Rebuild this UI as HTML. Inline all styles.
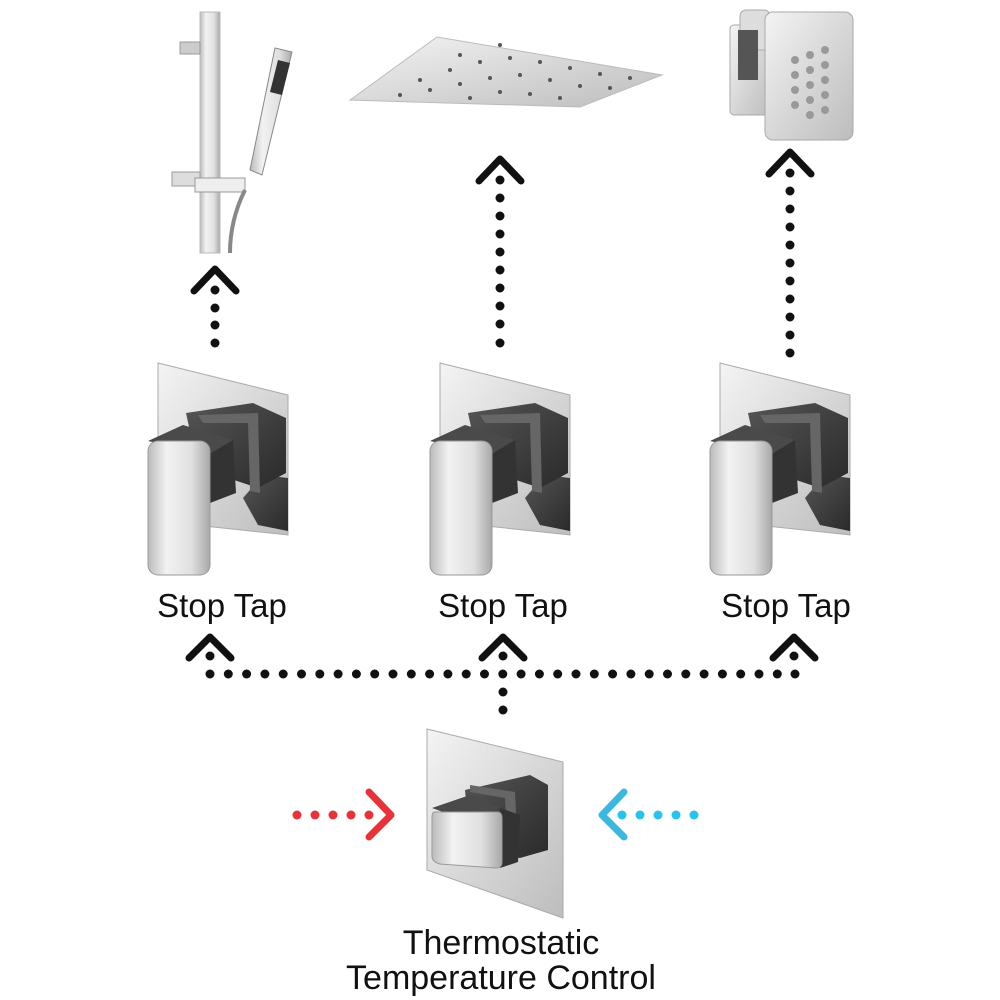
<!DOCTYPE html>
<html><head><meta charset="utf-8"><style>
html,body{margin:0;padding:0;background:#fff}
svg{display:block}
text{font-family:"Liberation Sans",sans-serif;fill:#111}
</style></head><body>
<svg width="1000" height="1000" viewBox="0 0 1000 1000" xmlns="http://www.w3.org/2000/svg">
<defs>
<linearGradient id="chrome" x1="0" y1="0" x2="1" y2="1">
<stop offset="0" stop-color="#f4f4f4"/><stop offset="0.5" stop-color="#d8d8d8"/><stop offset="1" stop-color="#bdbdbd"/>
</linearGradient>
<linearGradient id="lever" x1="0" y1="0" x2="1" y2="0">
<stop offset="0" stop-color="#bbb"/><stop offset="0.3" stop-color="#f2f2f2"/><stop offset="0.7" stop-color="#e0e0e0"/><stop offset="1" stop-color="#a8a8a8"/>
</linearGradient>
<linearGradient id="dark" x1="0" y1="0" x2="1" y2="1">
<stop offset="0" stop-color="#555"/><stop offset="1" stop-color="#2a2a2a"/>
</linearGradient>
<g id="tap">
<polygon points="0,0 130,32 130,172 0,158" fill="url(#chrome)" stroke="#aaa" stroke-width="1"/>
<polygon points="85,135 105,112 130,115 130,168 100,162" fill="url(#dark)"/>
<polygon points="28,50 95,40 128,55 128,110 100,125 40,105" fill="url(#dark)"/>
<polygon points="40,52 100,50 102,130 92,128 90,60 45,60" fill="#666"/>
<polygon points="-10,78 25,62 75,77 50,92" fill="#4a4a4a"/>
<polygon points="50,92 75,77 78,130 52,140" fill="#333"/>
<rect x="-10" y="78" width="62" height="134" rx="10" fill="url(#lever)" stroke="#999" stroke-width="1"/>
</g>
</defs>

<!-- shower rail -->
<rect x="200" y="12" width="20" height="241" fill="url(#lever)" stroke="#bbb"/>
<rect x="180" y="42" width="20" height="12" fill="#ccc" stroke="#999"/>
<rect x="172" y="172" width="28" height="14" fill="#ddd" stroke="#999"/>
<rect x="195" y="178" width="50" height="14" fill="#eee" stroke="#999"/>
<polygon points="275,48 292,52 262,175 250,170" fill="url(#lever)" stroke="#888"/>
<polygon points="278,60 290,63 282,95 270,92" fill="#333"/>
<path d="M245,190 Q230,220 230,253" stroke="#888" stroke-width="4" fill="none"/>

<!-- shower head -->
<polygon points="350,100 437,37 662,75 580,107" fill="url(#chrome)" stroke="#bbb"/>
<g fill="#555">
<circle cx="420" cy="80" r="2"/><circle cx="450" cy="70" r="2"/><circle cx="480" cy="62" r="2"/><circle cx="510" cy="58" r="2"/><circle cx="540" cy="62" r="2"/><circle cx="570" cy="68" r="2"/><circle cx="600" cy="74" r="2"/><circle cx="630" cy="78" r="2"/>
<circle cx="400" cy="95" r="2"/><circle cx="430" cy="90" r="2"/><circle cx="460" cy="84" r="2"/><circle cx="490" cy="78" r="2"/><circle cx="520" cy="75" r="2"/><circle cx="550" cy="80" r="2"/><circle cx="580" cy="86" r="2"/><circle cx="610" cy="88" r="2"/>
<circle cx="470" cy="98" r="2"/><circle cx="500" cy="92" r="2"/><circle cx="530" cy="94" r="2"/><circle cx="560" cy="98" r="2"/><circle cx="460" cy="55" r="2"/><circle cx="500" cy="45" r="2"/>
</g>

<!-- body jet -->
<rect x="730" y="25" width="40" height="90" rx="4" fill="url(#chrome)" stroke="#aaa"/>
<rect x="740" y="10" width="30" height="40" rx="6" fill="#ddd" stroke="#aaa"/>
<rect x="738" y="30" width="20" height="50" fill="#555"/>
<rect x="765" y="12" width="88" height="128" rx="8" fill="url(#chrome)" stroke="#aaa"/>
<g fill="#999">
<circle cx="795" cy="60" r="4"/><circle cx="810" cy="55" r="4"/><circle cx="825" cy="50" r="4"/>
<circle cx="795" cy="75" r="4"/><circle cx="810" cy="70" r="4"/><circle cx="825" cy="65" r="4"/>
<circle cx="795" cy="90" r="4"/><circle cx="810" cy="85" r="4"/><circle cx="825" cy="80" r="4"/>
<circle cx="795" cy="105" r="4"/><circle cx="810" cy="100" r="4"/><circle cx="825" cy="95" r="4"/>
<circle cx="810" cy="115" r="4"/><circle cx="825" cy="110" r="4"/>
</g>

<!-- taps -->
<use href="#tap" x="158" y="363"/>
<use href="#tap" x="440" y="363"/>
<use href="#tap" x="720" y="363"/>

<!-- thermostat -->
<polygon points="427,729 563,762 563,918 427,870" fill="url(#chrome)" stroke="#aaa"/>
<polygon points="465,790 530,775 548,785 548,850 520,858 470,850" fill="url(#dark)"/>
<polygon points="470,785 515,792 518,860 508,858 505,798 470,792" fill="#666"/>
<polygon points="432,808 470,795 500,808 465,820" fill="#4a4a4a"/>
<polygon points="500,808 520,815 518,862 500,868" fill="#333"/>
<path d="M434,812 L497,812 Q502,812 502,818 L502,862 Q502,868 496,868 L440,864 Q432,862 432,856 L432,818 Q432,812 434,812Z" fill="url(#lever)" stroke="#999"/>

<!-- dotted connectors -->
<g fill="#111">
<circle cx="215" cy="290" r="4.5"/><circle cx="215" cy="308" r="4.5"/><circle cx="215" cy="325" r="4.5"/><circle cx="215" cy="343" r="4.5"/>
<circle cx="500" cy="180" r="4.5"/><circle cx="500" cy="198" r="4.5"/><circle cx="500" cy="216" r="4.5"/><circle cx="500" cy="234" r="4.5"/><circle cx="500" cy="252" r="4.5"/><circle cx="500" cy="270" r="4.5"/><circle cx="500" cy="288" r="4.5"/><circle cx="500" cy="306" r="4.5"/><circle cx="500" cy="324" r="4.5"/><circle cx="500" cy="343" r="4.5"/>
<circle cx="790" cy="173" r="4.5"/><circle cx="790" cy="191" r="4.5"/><circle cx="790" cy="209" r="4.5"/><circle cx="790" cy="227" r="4.5"/><circle cx="790" cy="245" r="4.5"/><circle cx="790" cy="263" r="4.5"/><circle cx="790" cy="281" r="4.5"/><circle cx="790" cy="299" r="4.5"/><circle cx="790" cy="317" r="4.5"/><circle cx="790" cy="335" r="4.5"/><circle cx="790" cy="353" r="4.5"/>
<circle cx="210" cy="656" r="4.5"/><circle cx="503" cy="656" r="4.5"/><circle cx="794" cy="656" r="4.5"/>
<circle cx="503" cy="692" r="4.5"/><circle cx="503" cy="710" r="4.5"/>
</g>
<g stroke="#111" stroke-width="7" stroke-linecap="round" stroke-linejoin="round" fill="none">
<polyline points="194,291 215,269 236,291"/>
<polyline points="479,181 500,159 521,181"/>
<polyline points="769,174 790,152 811,174"/>
<polyline points="189,658 210,637 231,658"/>
<polyline points="482,658 503,637 524,658"/>
<polyline points="773,658 794,637 815,658"/>
</g>
<g fill="#111">
<circle cx="210" cy="674" r="4.5"/><circle cx="228.3" cy="674" r="4.5"/><circle cx="246.6" cy="674" r="4.5"/><circle cx="264.9" cy="674" r="4.5"/><circle cx="283.2" cy="674" r="4.5"/><circle cx="301.5" cy="674" r="4.5"/><circle cx="319.8" cy="674" r="4.5"/><circle cx="338.1" cy="674" r="4.5"/><circle cx="356.4" cy="674" r="4.5"/><circle cx="374.7" cy="674" r="4.5"/><circle cx="393" cy="674" r="4.5"/><circle cx="411.3" cy="674" r="4.5"/><circle cx="429.6" cy="674" r="4.5"/><circle cx="447.9" cy="674" r="4.5"/><circle cx="466.2" cy="674" r="4.5"/><circle cx="484.5" cy="674" r="4.5"/><circle cx="502.8" cy="674" r="4.5"/><circle cx="521.1" cy="674" r="4.5"/><circle cx="539.4" cy="674" r="4.5"/><circle cx="557.7" cy="674" r="4.5"/><circle cx="576" cy="674" r="4.5"/><circle cx="594.3" cy="674" r="4.5"/><circle cx="612.6" cy="674" r="4.5"/><circle cx="630.9" cy="674" r="4.5"/><circle cx="649.2" cy="674" r="4.5"/><circle cx="667.5" cy="674" r="4.5"/><circle cx="685.8" cy="674" r="4.5"/><circle cx="704.1" cy="674" r="4.5"/><circle cx="722.4" cy="674" r="4.5"/><circle cx="740.7" cy="674" r="4.5"/><circle cx="759" cy="674" r="4.5"/><circle cx="777.3" cy="674" r="4.5"/><circle cx="795" cy="674" r="4.5"/>
</g>

<!-- hot / cold -->
<g fill="#e8323a">
<circle cx="297" cy="815" r="4.5"/><circle cx="315" cy="815" r="4.5"/><circle cx="333" cy="815" r="4.5"/><circle cx="351" cy="815" r="4.5"/><circle cx="369" cy="815" r="4.5"/>
</g>
<polyline points="369,792 391,815 369,837" stroke="#e8323a" stroke-width="7" stroke-linecap="round" stroke-linejoin="round" fill="none"/>
<g fill="#27c3ea">
<circle cx="622" cy="815" r="4.5"/><circle cx="640" cy="815" r="4.5"/><circle cx="658" cy="815" r="4.5"/><circle cx="676" cy="815" r="4.5"/><circle cx="694" cy="815" r="4.5"/>
</g>
<polyline points="624,792 602,815 624,837" stroke="#3bb7e0" stroke-width="7" stroke-linecap="round" stroke-linejoin="round" fill="none"/>

<!-- labels -->
<g font-size="33" text-anchor="middle">
<text x="222" y="617">Stop Tap</text>
<text x="503" y="617">Stop Tap</text>
<text x="786" y="617">Stop Tap</text>
</g>
<g font-size="34" text-anchor="middle">
<text x="501" y="954">Thermostatic</text>
<text x="501" y="989">Temperature Control</text>
</g>
</svg>
</body></html>
